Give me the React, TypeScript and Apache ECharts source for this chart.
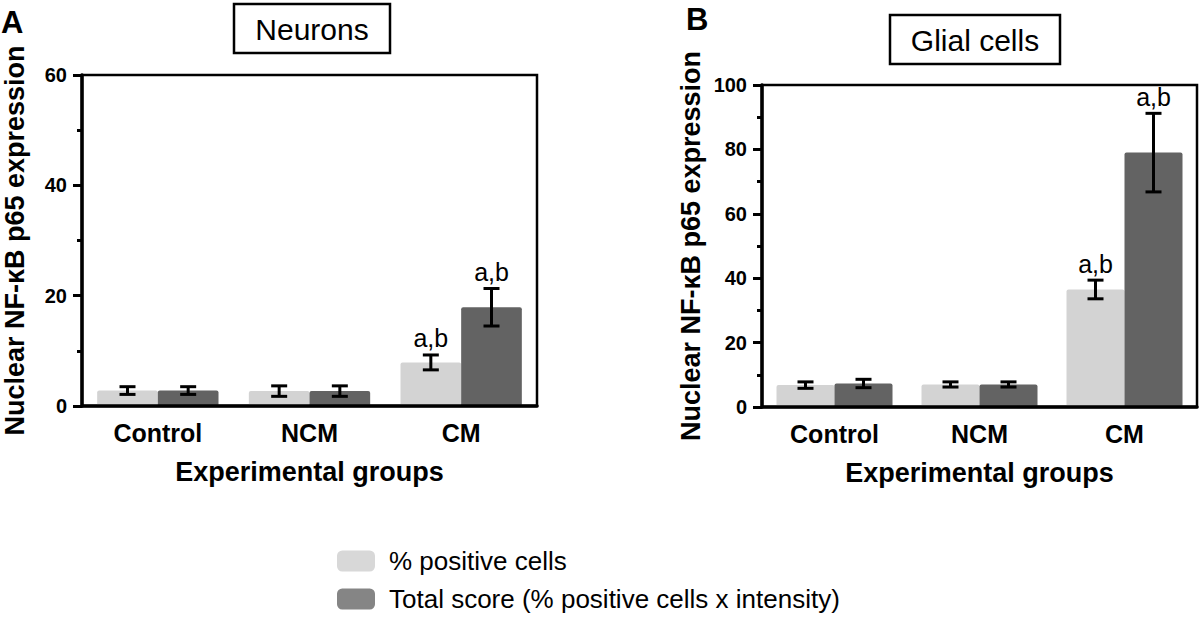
import React, { useEffect, useRef } from "react";
import * as echarts from "echarts";

const categories = ["Control", "NCM", "CM"];
const seriesNames = ["% positive cells", "Total score (% positive cells x intensity)"];

// Panel A – Neurons
const neuronsPositive = [2.8, 2.7, 7.9];
const neuronsPositiveErr = [0.7, 0.95, 1.35];
const neuronsScore = [2.8, 2.7, 17.9];
const neuronsScoreErr = [0.7, 0.95, 3.4];
const neuronsPositiveSig = ["", "", "a,b"];
const neuronsScoreSig = ["", "", "a,b"];

// Panel B – Glial cells
const glialPositive = [6.8, 7.0, 36.5];
const glialPositiveErr = [1.0, 0.8, 2.9];
const glialScore = [7.3, 7.0, 79.0];
const glialScoreErr = [1.3, 0.8, 12.2];
const glialPositiveSig = ["", "", "a,b"];
const glialScoreSig = ["", "", "a,b"];

const yTicksA = { min: 0, max: 60, interval: 20 };
const yTicksB = { min: 0, max: 100, interval: 20 };

const FONT = "'Liberation Sans', Arial, Helvetica, sans-serif";
const LIGHT = "#d3d3d3";
const DARK = "#636363";

function errSeries(means: number[], errs: number[], sig: string[], side: number, axisIdx: number) {
  return {
    type: "custom",
    xAxisIndex: axisIdx,
    yAxisIndex: axisIdx,
    z: 5,
    silent: true,
    data: means.map((m, i) => [i, m, errs[i]]),
    renderItem: (params: any, api: any) => {
      const i = api.value(0);
      const m = api.value(1);
      const e = api.value(2);
      const band = api.size([1, 0])[0];
      const bw = (band * 0.8) / 2;
      const cx = api.coord([i, 0])[0] + (side === 0 ? -bw / 2 : bw / 2);
      const yt = api.coord([i, m + e])[1];
      const yb = api.coord([i, m - e])[1];
      const hw = 8;
      const st = { stroke: "#000", lineWidth: 3 };
      const children: any[] = [
        { type: "line", shape: { x1: cx, y1: yt, x2: cx, y2: yb }, style: st },
        { type: "line", shape: { x1: cx - hw, y1: yt, x2: cx + hw, y2: yt }, style: st },
        { type: "line", shape: { x1: cx - hw, y1: yb, x2: cx + hw, y2: yb }, style: st },
      ];
      const s = sig[params.dataIndex];
      if (s) {
        children.push({
          type: "text",
          x: cx,
          y: yt - 4,
          style: {
            text: s,
            fill: "#000",
            font: `25px ${FONT}`,
            textAlign: "center",
            textVerticalAlign: "bottom",
          },
        });
      }
      return { type: "group", children };
    },
  };
}

function barSeries(name: string, data: number[], color: string, axisIdx: number) {
  return {
    type: "bar",
    name,
    xAxisIndex: axisIdx,
    yAxisIndex: axisIdx,
    data,
    barGap: "0%",
    barCategoryGap: "20%",
    itemStyle: { color, borderRadius: [2, 2, 0, 0] },
  };
}

function xAxis(gridIndex: number) {
  return {
    type: "category",
    gridIndex,
    data: categories,
    z: 4,
    axisLine: { lineStyle: { color: "#000", width: 3.5 } },
    axisTick: { show: false },
    axisLabel: { color: "#000", fontFamily: FONT, fontWeight: "bold", fontSize: 25, margin: 14 },
    name: "Experimental groups",
    nameLocation: "middle",
    nameGap: 52,
    nameTextStyle: { color: "#000", fontFamily: FONT, fontWeight: "bold", fontSize: 27 },
  };
}

function yAxis(gridIndex: number, t: { min: number; max: number; interval: number }, nameGap: number) {
  return {
    type: "value",
    gridIndex,
    min: t.min,
    max: t.max,
    interval: t.interval,
    z: 4,
    axisLine: { show: true, lineStyle: { color: "#000", width: 3.5 } },
    axisTick: { show: true, inside: false, length: 9, lineStyle: { color: "#000", width: 3 } },
    minorTick: { show: true, splitNumber: 2, length: 5, lineStyle: { color: "#000", width: 3 } },
    splitLine: { show: false },
    axisLabel: { color: "#000", fontFamily: FONT, fontWeight: "bold", fontSize: 20, margin: 15 },
    name: "Nuclear NF-κB p65 expression",
    nameLocation: "middle",
    nameGap,
    nameTextStyle: { color: "#000", fontFamily: FONT, fontWeight: "bold", fontSize: 27 },
  };
}

export default function App() {
  const ref = useRef<HTMLDivElement>(null);
  useEffect(() => {
    document.body.style.margin = "0";
    const chart = echarts.init(ref.current as HTMLDivElement, undefined, { renderer: "svg" });
    chart.setOption({
      animation: false,
      backgroundColor: "#fff",
      textStyle: { fontFamily: FONT },
      grid: [
        { left: 81, top: 75, width: 456, height: 331, show: true, borderColor: "#000", borderWidth: 2.5 },
        { left: 762, top: 85, width: 435, height: 322, show: true, borderColor: "#000", borderWidth: 2.5 },
      ],
      xAxis: [xAxis(0), xAxis(1)],
      yAxis: [yAxis(0, yTicksA, 54), yAxis(1, yTicksB, 58)],
      legend: {
        orient: "vertical",
        left: 337,
        top: 548,
        padding: 0,
        itemWidth: 38,
        itemHeight: 21,
        itemGap: 12,
        textStyle: { color: "#000", fontFamily: FONT, fontSize: 26, padding: [0, 0, 0, 9] },
        data: [
          { name: seriesNames[0], icon: "roundRect", itemStyle: { color: "#d8d8d8" } },
          { name: seriesNames[1], icon: "roundRect", itemStyle: { color: "#858585" } },
        ],
      },
      graphic: [
        { type: "text", left: 1, top: 7, style: { text: "A", font: `bold 31px ${FONT}`, fill: "#000" } },
        { type: "text", left: 686, top: 4, style: { text: "B", font: `bold 31px ${FONT}`, fill: "#000" } },
        {
          type: "rect",
          shape: { x: 234, y: 4, width: 156, height: 49 },
          style: { fill: "#fff", stroke: "#000", lineWidth: 2.5 },
        },
        {
          type: "text",
          x: 312,
          y: 29,
          style: { text: "Neurons", font: `30px ${FONT}`, fill: "#000", textAlign: "center", textVerticalAlign: "middle" },
        },
        {
          type: "rect",
          shape: { x: 890, y: 15, width: 170, height: 49 },
          style: { fill: "#fff", stroke: "#000", lineWidth: 2.5 },
        },
        {
          type: "text",
          x: 975,
          y: 40,
          style: { text: "Glial cells", font: `30px ${FONT}`, fill: "#000", textAlign: "center", textVerticalAlign: "middle" },
        },
      ],
      series: [
        barSeries(seriesNames[0], neuronsPositive, LIGHT, 0),
        barSeries(seriesNames[1], neuronsScore, DARK, 0),
        barSeries(seriesNames[0], glialPositive, LIGHT, 1),
        barSeries(seriesNames[1], glialScore, DARK, 1),
        errSeries(neuronsPositive, neuronsPositiveErr, neuronsPositiveSig, 0, 0),
        errSeries(neuronsScore, neuronsScoreErr, neuronsScoreSig, 1, 0),
        errSeries(glialPositive, glialPositiveErr, glialPositiveSig, 0, 1),
        errSeries(glialScore, glialScoreErr, glialScoreSig, 1, 1),
      ],
    });
    return () => chart.dispose();
  }, []);
  return <div ref={ref} style={{ width: 1200, height: 620 }} />;
}
